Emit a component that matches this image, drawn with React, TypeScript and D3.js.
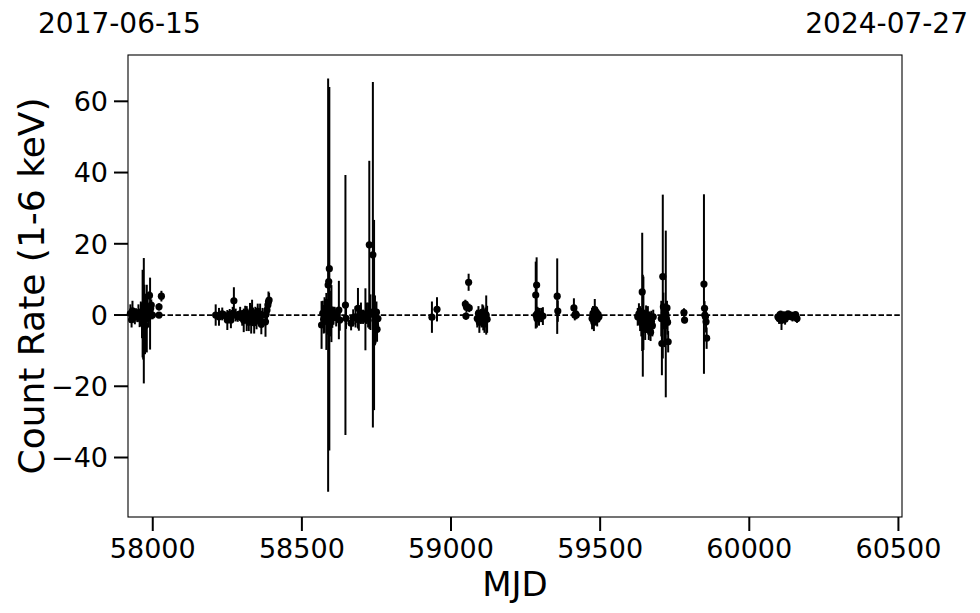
import * as d3 from 'd3';

// observation epochs (MJD), count rates and 1-sigma errors
const mjd = [
  57925, 57929, 57932, 57936, 57940, 57944, 57948, 57952, 57956, 57960, 57964, 57966, 57968, 57970, 57972, 57974,
  57977, 57980, 57983, 57986, 57989, 57991, 57993, 57995, 57999, 58021, 58021, 58029,
  58211, 58222, 58233, 58242, 58250, 58258, 58262, 58268, 58272, 58278, 58285, 58293, 58300, 58305, 58310, 58315,
  58318, 58322, 58326, 58330, 58333, 58336, 58340, 58344, 58348, 58352, 58356, 58360, 58364, 58368, 58378, 58380,
  58383, 58386, 58388, 58390,
  58566, 58570, 58573, 58576, 58579, 58582, 58585, 58588, 58590, 58592, 58594, 58596, 58599, 58602, 58606, 58610,
  58615, 58624, 58627, 58646, 58648, 58665, 58672, 58680, 58688, 58691, 58698, 58705, 58713, 58717, 58722, 58726,
  58730, 58738, 58742, 58745, 58747, 58750, 58752, 58755,
  58936, 58953,
  59048, 59050, 59052, 59059, 59061, 59088, 59092, 59095, 59098, 59102, 59105, 59108, 59112, 59115, 59118, 59121,
  59284, 59285, 59287, 59288, 59290, 59295, 59302, 59308, 59356, 59358, 59412, 59415, 59418, 59420,
  59473, 59476, 59479, 59482, 59485, 59487, 59490, 59493, 59496,
  59626, 59630, 59634, 59638, 59641, 59643, 59645, 59648, 59651, 59654, 59657, 59660, 59663, 59666, 59669, 59672,
  59675, 59678,
  59705, 59707, 59710, 59712, 59714, 59716, 59720, 59722, 59724, 59726, 59728,
  59781, 59783,
  59848, 59850, 59851, 59853, 59855, 59857,
  60096, 60100, 60104, 60108, 60112, 60116, 60120, 60125, 60130, 60135, 60140, 60145, 60150, 60155, 60160,
];
const rate = [
  0.4, -1.3, 1.2, 0.2, -0.6, 0.5, -0.2, 0.6, -0.8, 0.3, -1.5, 0.4, -2.0, -1.6, 1.5, -3.0,
  0.0, -1.0, 2.0, -0.5, 5.5, 0.4, 1.8, 2.8, 0.0, 2.3, 0.0, 5.3,
  0.0, -0.5, 0.3, -0.2, -1.4, 0.2, -1.4, 0.5, 4.0, 0.0, -0.4, 0.3, -0.8, -1.5, 0.6, -1.0,
  0.2, -2.0, 0.4, -1.2, 0.8, -0.5, -2.2, 0.3, -1.5, 1.0, -0.8, 0.2, -2.6, 0.0, -1.9, 0.2,
  1.4, 2.8, 3.7, 4.2,
  -2.8, 0.5, -1.2, 0.0, 1.5, -1.8, -0.5, 8.4, 9.4, 13.0, 0.8, -2.0, 0.4, -0.6, -0.2, 0.3,
  -0.7, 1.4, -1.4, 2.8, -0.9, -2.3, -0.8, -0.5, 1.9, -1.4, 0.5, -0.5, -1.2, 0.5, 0.0, 19.7,
  0.8, 16.9, 0.0, -1.5, -3.0, 0.8, -4.0, -1.0,
  -0.6, 1.6,
  3.1, -0.3, 2.2, 9.2, 2.0, -1.0, 0.5, -2.0, -0.5, -1.5, 0.8, -0.8, -2.5, 0.3, 0.0, -1.2,
  5.6, 0.0, 8.4, -1.0, 0.5, -0.5, 0.0, -0.3, 5.3, 1.1, 2.0, 0.0, 0.3, 0.0,
  -1.0, 0.5, -2.0, 1.5, -0.5, 0.8, -1.2, 0.2, -0.5,
  -0.5, 0.3, -1.0, -2.0, 6.5, -3.0, 0.5, -1.5, -4.0, -0.8, -2.5, 0.0, -3.5, -1.0, -4.8, -1.8,
  -3.0, -0.5,
  -1.0, -8.0, 10.8, 2.3, -0.5, -3.0, 0.3, -0.9, 2.0, -2.0, -7.5,
  0.7, -1.4,
  8.7, 1.9, 0.0, -0.5, -1.9, -6.5,
  -0.5, -1.0, 0.2, -1.5, -0.8, 0.0, -1.2, -0.5, 0.3, -0.3, 0.0, -0.6, -0.2, 0.1, -1.0,
];
const rateErr = [
  2.6, 2.2, 2.8, 1.6, 2.0, 1.4, 1.8, 2.4, 2.6, 3.5, 5.0, 12.3, 10.5, 17.6, 7.0, 8.0,
  6.0, 9.5, 4.0, 3.0, 1.2, 10.1, 2.0, 1.6, 1.2, 1.0, 0.8, 1.5,
  3.0, 2.5, 1.8, 1.2, 2.8, 1.5, 2.3, 1.8, 3.8, 1.8, 1.5, 2.0, 2.2, 3.3, 2.0, 3.5,
  1.6, 2.5, 3.0, 4.0, 3.5, 2.6, 3.0, 2.0, 2.5, 2.2, 1.8, 3.0, 2.8, 2.0, 4.2, 3.0,
  2.5, 2.0, 2.9, 2.0,
  6.7, 3.5, 4.0, 5.0, 3.0, 8.0, 5.0, 58.0, 5.0, 51.0, 6.0, 4.0, 8.0, 3.0, 2.5, 2.0,
  2.5, 8.2, 3.0, 36.5, 3.0, 2.0, 2.4, 3.0, 5.7, 3.0, 3.0, 2.0, 8.7, 3.0, 3.5, 23.6,
  5.0, 48.5, 26.7, 7.0, 5.0, 3.0, 3.5, 2.5,
  4.4, 3.4,
  1.2, 1.0, 1.5, 2.4, 1.2, 2.5, 2.0, 3.0, 1.5, 2.0, 2.2, 3.5, 2.5, 1.8, 5.5, 3.8,
  9.4, 3.0, 7.8, 2.5, 1.8, 2.5, 2.0, 2.5, 10.6, 3.0, 2.7, 1.5, 1.0, 1.2,
  3.0, 2.0, 2.5, 3.0, 2.0, 1.5, 2.0, 1.2, 1.5,
  2.5, 3.0, 3.5, 4.0, 16.6, 14.3, 10.3, 3.0, 3.0, 3.5, 2.5, 2.5, 3.5, 2.0, 2.5, 3.0,
  3.0, 2.0,
  5.0, 8.9, 23.0, 4.0, 3.0, 6.0, 23.4, 3.0, 2.0, 3.5, 3.0,
  1.2, 1.0,
  25.2, 2.0, 2.5, 1.5, 3.0, 3.0,
  1.2, 1.5, 1.0, 2.7, 1.2, 1.0, 1.5, 1.0, 0.8, 1.0, 0.8, 1.2, 1.0, 0.8, 1.2,
];

const xTicks = [58000, 58500, 59000, 59500, 60000, 60500];
const yTicks = [-40, -20, 0, 20, 40, 60];
const dateStart = '2017-06-15';
const dateEnd = '2024-07-27';

export default function App() {
  const width = 980;
  const height = 613;
  const margin = { top: 55, right: 78, bottom: 96, left: 128 };
  const boundsWidth = width - margin.left - margin.right;
  const boundsHeight = height - margin.top - margin.bottom;

  const xScale = d3.scaleLinear().domain([57917, 60512]).range([0, boundsWidth]);
  const yScale = d3.scaleLinear().domain([-56.7, 73.0]).range([boundsHeight, 0]);
  const fmt = (v: number) => (v < 0 ? '\u2212' + Math.abs(v) : String(v));
  const font = 'DejaVu Sans, sans-serif';

  return (
    <svg
      width={width}
      height={height}
      style={{ position: 'absolute', left: 0, top: 0, display: 'block', background: '#fff' }}
      fontFamily={font}
    >
      <text x={38} y={33} fontSize={28} textAnchor="start">
        {dateStart}
      </text>
      <text x={968} y={33} fontSize={28} textAnchor="end">
        {dateEnd}
      </text>
      <g transform={`translate(${margin.left},${margin.top})`}>
        {/* zero line */}
        <line
          x1={0}
          x2={boundsWidth}
          y1={yScale(0)}
          y2={yScale(0)}
          stroke="#000"
          strokeWidth={1.7}
          strokeDasharray="5.5,2.4"
        />
        {/* error bars */}
        {mjd.map((m, i) => (
          <line
            key={'e' + i}
            x1={xScale(m)}
            x2={xScale(m)}
            y1={yScale(rate[i] - rateErr[i])}
            y2={yScale(rate[i] + rateErr[i])}
            stroke="#000"
            strokeWidth={2}
          />
        ))}
        {mjd.map((m, i) => (
          <circle key={'p' + i} cx={xScale(m)} cy={yScale(rate[i])} r={3.6} fill="#000" />
        ))}
        {/* frame */}
        <rect x={0} y={0} width={boundsWidth} height={boundsHeight} fill="none" stroke="#000" strokeWidth={1.1} />
        {/* x axis */}
        {xTicks.map((t) => (
          <g key={'x' + t} transform={`translate(${xScale(t)},${boundsHeight})`}>
            <line y1={0} y2={14} stroke="#000" strokeWidth={2} />
            <text y={41} fontSize={27} textAnchor="middle">
              {t}
            </text>
          </g>
        ))}
        {/* y axis */}
        {yTicks.map((t) => (
          <g key={'y' + t} transform={`translate(0,${yScale(t)})`}>
            <line x1={0} x2={-14} stroke="#000" strokeWidth={2} />
            <text x={-20} dy="0.36em" fontSize={27} textAnchor="end">
              {fmt(t)}
            </text>
          </g>
        ))}
        <text x={boundsWidth / 2} y={boundsHeight + 79} fontSize={34} textAnchor="middle">
          MJD
        </text>
        <text
          transform={`translate(${44 - margin.left},${boundsHeight / 2}) rotate(-90)`}
          fontSize={36}
          textAnchor="middle"
        >
          Count Rate (1-6 keV)
        </text>
      </g>
    </svg>
  );
}
